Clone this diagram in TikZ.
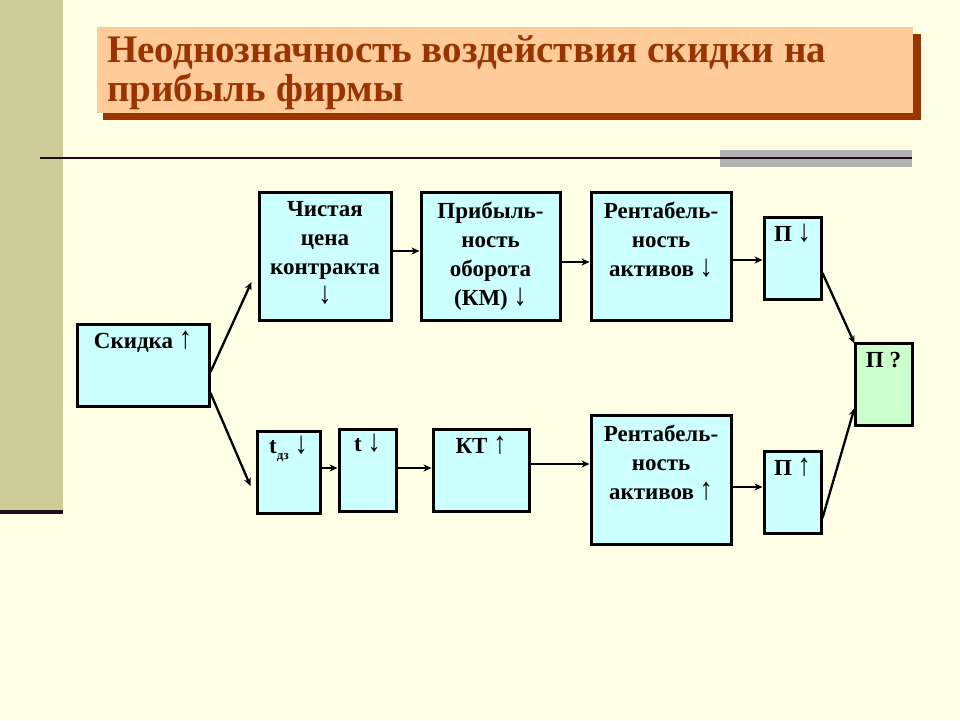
\documentclass[tikz,border=0pt]{standalone}
\usepackage{fontspec}
\usepackage{graphicx}
\setmainfont{Liberation Serif}
\usetikzlibrary{arrows.meta,calc}
\definecolor{bgc}{RGB}{255,255,229}
\definecolor{stripc}{RGB}{204,204,153}
\definecolor{titlefill}{RGB}{255,204,153}
\definecolor{titledark}{RGB}{153,51,0}
\definecolor{barc}{RGB}{178,178,178}
\definecolor{boxc}{RGB}{204,255,255}
\definecolor{greenc}{RGB}{204,255,204}
\definecolor{darkline}{RGB}{30,10,25}
\newcommand\myup{\smash{\scalebox{1.15}[1.35]{↑}}}
\newcommand\mydown{\smash{\scalebox{1.15}[1.35]{↓}}}
\begin{document}
\begin{tikzpicture}[x=1pt,y=-1pt,
  box/.style={draw=black, line width=3pt, fill=boxc, inner sep=0pt, anchor=center},
  gbox/.style={box, fill=greenc},
  lbl/.style={font=\fontsize{23}{29}\selectfont\bfseries, align=center, inner sep=0pt, anchor=north, yshift=-11pt},
  conn/.style={line width=2.3pt, -{Stealth[length=8pt,width=7pt]}},
  titletext/.style={font=\fontsize{39}{39}\selectfont\bfseries, text=titledark, align=left, inner sep=0pt, anchor=north west}
]
\useasboundingbox (0,0) rectangle (960,720);
\fill[bgc] (0,0) rectangle (960,720);
% left strip
\fill[stripc] (0,0) rectangle (63,510);
\fill[darkline] (0,510) rectangle (63,514);
% title
\fill[titledark] (103,34) rectangle (921,120);
\fill[titlefill] (97,27) rectangle (913,113);
\node[titletext] (title) at (107,35) {Неоднозначность воздействия скидки на\\прибыль фирмы};
% rule
\fill[barc] (720,150) rectangle (912,167);
\draw[line width=2.5pt, darkline] (40,158) -- (912,158);

% boxes
\node[box, minimum width=132pt, minimum height=82pt] (skidka) at (143,365) {};
\node[box, minimum width=132pt, minimum height=128pt] (price) at (325,256) {};
\node[box, minimum width=139pt, minimum height=128pt] (profit) at (490.5,256) {};
\node[box, minimum width=140pt, minimum height=128pt] (rentT) at (661,256) {};
\node[box, minimum width=57pt, minimum height=82pt] (pDown) at (792.5,258) {};
\node[gbox, minimum width=57pt, minimum height=82pt] (pQ) at (883.5,384) {};
\node[box, minimum width=57pt, minimum height=82pt] (pUp) at (792.5,492) {};
\node[box, minimum width=63pt, minimum height=82pt] (tdz) at (288.5,472) {};
\node[box, minimum width=57pt, minimum height=82pt] (t) at (367.5,470) {};
\node[box, minimum width=96pt, minimum height=82pt] (kt) at (481,470) {};
\node[box, minimum width=140pt, minimum height=129pt] (rentB) at (661,479.5) {};

% labels
\node[lbl] (skidkaL) at (skidka.north) {Скидка \myup};
\node[lbl] (priceL) at (price.north) {Чистая\\цена\\контракта\\\mydown};
\node[lbl] (profitL) at (profit.north) {Прибыль-\\ность\\оборота\\(КМ) \mydown};
\node[lbl] (rentTL) at (rentT.north) {Рентабель-\\ность\\активов \mydown};
\node[lbl] (pDownL) at (pDown.north) {П \mydown};
\node[lbl] (pQL) at (pQ.north) {П ?};
\node[lbl] (pUpL) at (pUp.north) {П \myup};
\node[lbl] (tdzL) at (tdz.north) {t\raisebox{-6pt}{\fontsize{13}{13}\selectfont дз} \mydown};
\node[lbl] (tL) at (t.north) {t \mydown};
\node[lbl] (ktL) at (kt.north) {КТ \myup};
\node[lbl] (rentBL) at (rentB.north) {Рентабель-\\ность\\активов \myup};

% connectors
\draw[conn] ($(skidka.east)+(0,7)$) -- ($(price.west)+(-6,26)$);
\draw[conn] ($(skidka.east)+(0,28)$) -- ($(tdz.west)+(-5,14)$);
\coordinate (c1) at ($(price.east)+(0,-5)$);
\draw[conn] (c1) -- (c1 -| profit.west);
\coordinate (c2) at ($(profit.east)+(0,6)$);
\draw[conn] (c2) -- (c2 -| rentT.west);
\coordinate (c3) at ($(rentT.east)+(0,4)$);
\draw[conn] (c3) -- (c3 -| pDown.west);
\coordinate (c4) at ($(tdz.east)+(0,-4)$);
\draw[conn] (c4) -- (c4 -| t.west);
\coordinate (c5) at ($(t.east)+(0,-2)$);
\draw[conn] (c5) -- (c5 -| kt.west);
\coordinate (c6) at ($(kt.east)+(0,-6)$);
\draw[conn] (c6) -- (c6 -| rentB.west);
\coordinate (c7) at ($(rentB.east)+(0,7.5)$);
\draw[conn] (c7) -- (c7 -| pUp.west);
\draw[conn] ($(pDown.east)+(0,15)$) -- ($(pQ.north west)+(1,2)$);
\draw[conn] ($(pUp.east)+(0,26)$) -- ($(pQ.west)+(1,24)$);
\end{tikzpicture}
\end{document}
